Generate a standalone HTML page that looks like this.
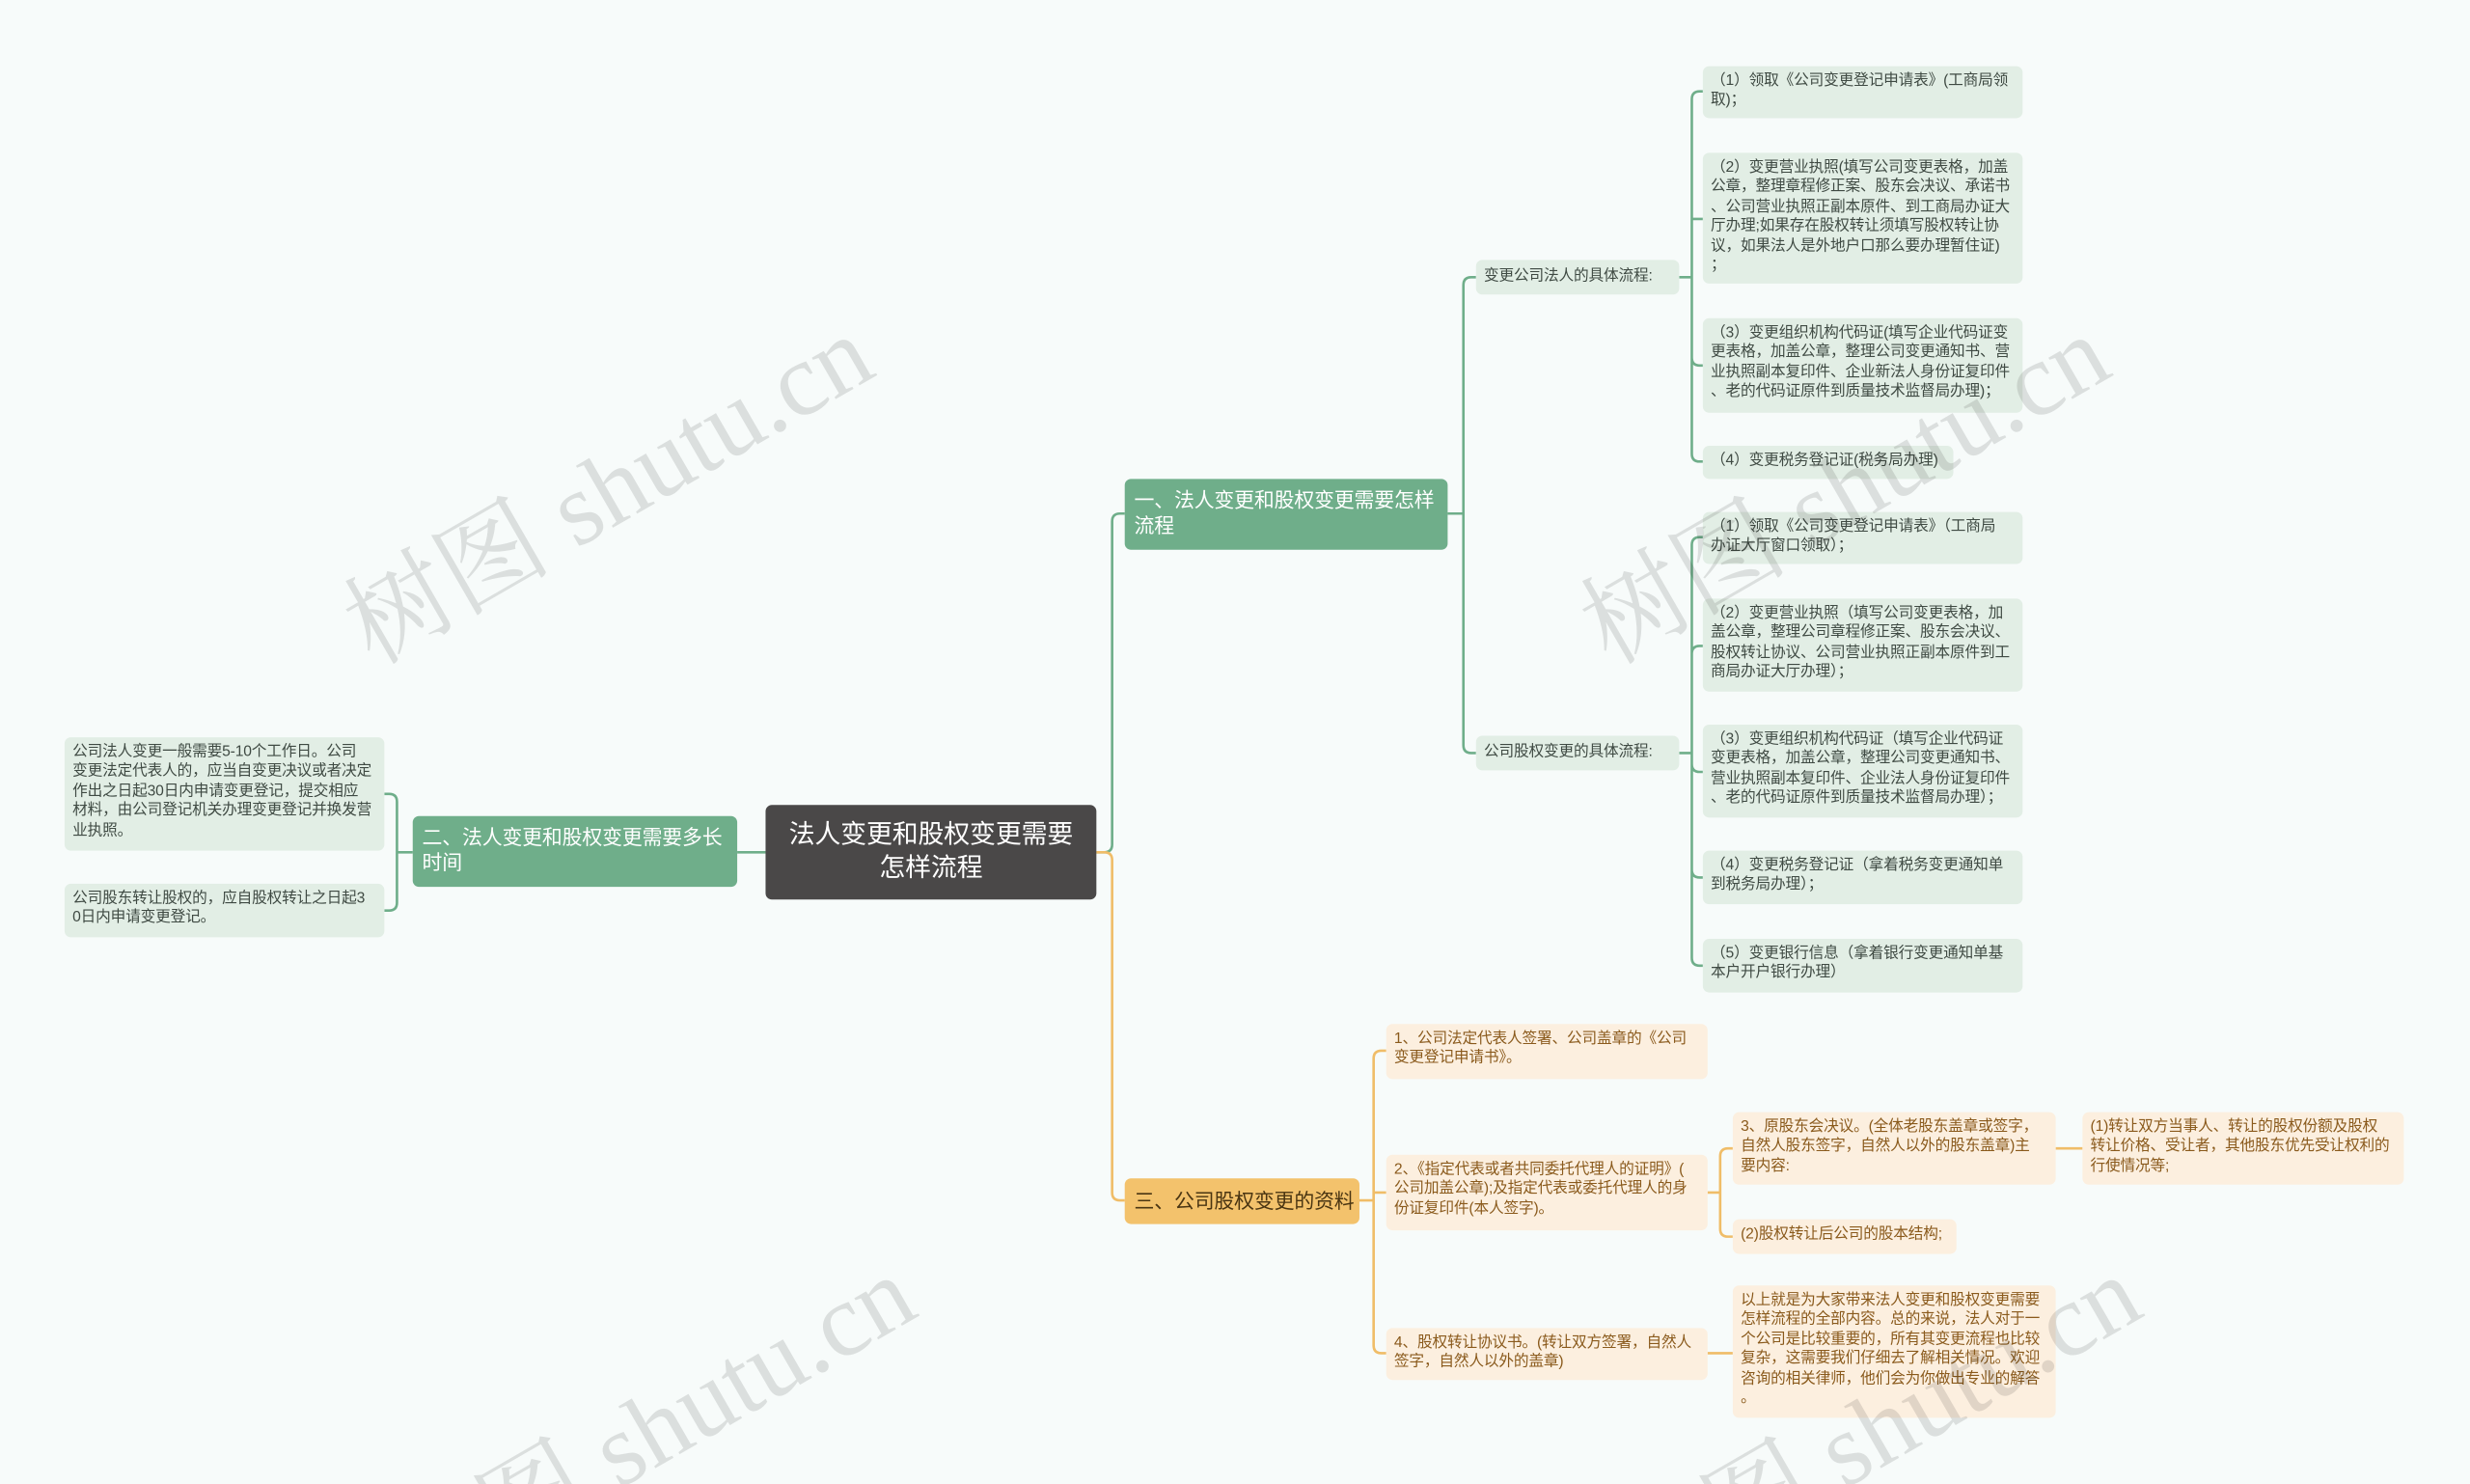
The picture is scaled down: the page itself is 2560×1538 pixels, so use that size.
<!DOCTYPE html>
<html><head><meta charset="utf-8"><style>
html,body{margin:0;padding:0;overflow:hidden;}
body{width:2560px;height:1538px;overflow:hidden;background:#f7fbfa;position:relative;}
#s{position:absolute;left:0;top:0;width:1568px;height:942px;overflow:hidden;transform:scale(1.63265);transform-origin:0 0;font-family:"Liberation Sans","Noto Sans CJK SC",sans-serif;}
.n{position:absolute;box-sizing:border-box;border-radius:4px;font-size:9.6px;line-height:12.4px;padding:4px 5px 3px;white-space:nowrap;letter-spacing:-0.1px;}
.g{background:#e2eee5;color:#3f4a43;}
.o{background:#fcefdf;color:#8a5a1c;}
.b{background:#6fae8a;color:#fff;font-size:12.8px;line-height:16px;padding:6px 6px;}
.ob{background:#f3c26c;color:#4a3512;font-size:12.8px;line-height:16px;padding:7px 6px;}
.r{background:#4a4848;color:#fff;font-size:16.5px;line-height:21px;text-align:center;padding:9px 6px;border-radius:4px;}
.w{position:absolute;font-family:"Liberation Serif","Noto Serif CJK SC",serif;font-size:66px;color:rgba(0,0,0,0.11);transform:rotate(-30deg);transform-origin:center;white-space:nowrap;}
svg{position:absolute;left:0;top:0;}
</style></head><body><div id="s">
<svg width="1568" height="942" fill="none" stroke-width="1.6">
<g stroke="#6fae8a">
<path d="M696 541 H701 Q706 541 706 536 V331 Q706 326 711 326 H714"/>
<path d="M486 541 H468"/>
<path d="M919 326 H929 M929 326 V181 Q929 176 934 176 H937 M929 326 V473 Q929 478 934 478 H937"/>
<path d="M1066 176 H1074 M1074 176 V63 Q1074 58 1079 58 H1081 M1074 139 H1081 M1074 176 V227 Q1074 232 1079 232 H1081 M1074 176 V288 Q1074 293 1079 293 H1081"/>
<path d="M1066 478 H1074 M1074 478 V346 Q1074 341 1079 341 H1081 M1074 478 V415 Q1074 410 1079 410 H1081 M1074 478 V485 Q1074 490 1079 490 H1081 M1074 478 V552 Q1074 557 1079 557 H1081 M1074 478 V608 Q1074 613 1079 613 H1081"/>
<path d="M262 541 H252 M252 541 V509 Q252 504 247 504 H244 M252 541 V573 Q252 578 247 578 H244"/>
</g>
<g stroke="#f0bd68">
<path d="M696 541 H701 Q706 541 706 546 V757 Q706 762 711 762 H714"/>
<path d="M863 762 H872 M872 762 V672 Q872 667 877 667 H880 M872 757 H880 M872 762 V854 Q872 859 877 859 H880"/>
<path d="M1084 757 H1092 M1092 757 V734 Q1092 729 1097 729 H1100 M1092 757 V780 Q1092 785 1097 785 H1100"/>
<path d="M1084 859 H1100"/>
<path d="M1305 729 H1322"/>
</g>
</svg>
<div class="n r" style="left:486px;top:511px;width:210px;height:60px;">法人变更和股权变更需要<br>怎样流程</div>
<div class="n b" style="left:714px;top:304px;width:205px;height:45px;">一、法人变更和股权变更需要怎样<br>流程</div>
<div class="n b" style="left:262px;top:518px;width:206px;height:45px;">二、法人变更和股权变更需要多长<br>时间</div>
<div class="n ob" style="left:714px;top:748px;width:149px;height:29px;">三、公司股权变更的资料</div>
<div class="n g" style="left:937px;top:165px;width:129px;height:22px;padding-top:5px;">变更公司法人的具体流程:</div>
<div class="n g" style="left:937px;top:467px;width:129px;height:22px;padding-top:5px;">公司股权变更的具体流程:</div>
<div class="n g" style="left:1081px;top:42px;width:203px;height:33px;">（1）领取《公司变更登记申请表》(工商局领<br>取)；</div>
<div class="n g" style="left:1081px;top:97px;width:203px;height:83px;">（2）变更营业执照(填写公司变更表格，加盖<br>公章，整理章程修正案、股东会决议、承诺书<br>、公司营业执照正副本原件、到工商局办证大<br>厅办理;如果存在股权转让须填写股权转让协<br>议，如果法人是外地户口那么要办理暂住证)<br>；</div>
<div class="n g" style="left:1081px;top:202px;width:203px;height:60px;">（3）变更组织机构代码证(填写企业代码证变<br>更表格，加盖公章，整理公司变更通知书、营<br>业执照副本复印件、企业新法人身份证复印件<br>、老的代码证原件到质量技术监督局办理)；</div>
<div class="n g" style="left:1081px;top:283px;width:159px;height:21px;">（4）变更税务登记证(税务局办理)</div>
<div class="n g" style="left:1081px;top:325px;width:203px;height:33px;">（1）领取《公司变更登记申请表》（工商局<br>办证大厅窗口领取）；</div>
<div class="n g" style="left:1081px;top:380px;width:203px;height:59px;">（2）变更营业执照（填写公司变更表格，加<br>盖公章，整理公司章程修正案、股东会决议、<br>股权转让协议、公司营业执照正副本原件到工<br>商局办证大厅办理）；</div>
<div class="n g" style="left:1081px;top:460px;width:203px;height:59px;">（3）变更组织机构代码证（填写企业代码证<br>变更表格，加盖公章，整理公司变更通知书、<br>营业执照副本复印件、企业法人身份证复印件<br>、老的代码证原件到质量技术监督局办理）；</div>
<div class="n g" style="left:1081px;top:540px;width:203px;height:34px;">（4）变更税务登记证（拿着税务变更通知单<br>到税务局办理）；</div>
<div class="n g" style="left:1081px;top:596px;width:203px;height:34px;">（5）变更银行信息（拿着银行变更通知单基<br>本户开户银行办理）</div>
<div class="n g" style="left:41px;top:468px;width:203px;height:72px;">公司法人变更一般需要5-10个工作日。公司<br>变更法定代表人的，应当自变更决议或者决定<br>作出之日起30日内申请变更登记，提交相应<br>材料，由公司登记机关办理变更登记并换发营<br>业执照。</div>
<div class="n g" style="left:41px;top:561px;width:203px;height:34px;">公司股东转让股权的，应自股权转让之日起3<br>0日内申请变更登记。</div>
<div class="n o" style="left:880px;top:650px;width:204px;height:35px;">1、公司法定代表人签署、公司盖章的《公司<br>变更登记申请书》。</div>
<div class="n o" style="left:880px;top:733px;width:204px;height:48px;">2、《指定代表或者共同委托代理人的证明》(<br>公司加盖公章);及指定代表或委托代理人的身<br>份证复印件(本人签字)。</div>
<div class="n o" style="left:880px;top:843px;width:204px;height:33px;">4、股权转让协议书。(转让双方签署，自然人<br>签字，自然人以外的盖章)</div>
<div class="n o" style="left:1100px;top:706px;width:205px;height:46px;">3、原股东会决议。(全体老股东盖章或签字，<br>自然人股东签字，自然人以外的股东盖章)主<br>要内容:</div>
<div class="n o" style="left:1100px;top:774px;width:142px;height:22px;">(2)股权转让后公司的股本结构;</div>
<div class="n o" style="left:1100px;top:816px;width:205px;height:84px;">以上就是为大家带来法人变更和股权变更需要<br>怎样流程的全部内容。总的来说，法人对于一<br>个公司是比较重要的，所有其变更流程也比较<br>复杂，这需要我们仔细去了解相关情况。欢迎<br>咨询的相关律师，他们会为你做出专业的解答<br>。</div>
<div class="n o" style="left:1322px;top:706px;width:204px;height:46px;">(1)转让双方当事人、转让的股权份额及股权<br>转让价格、受让者，其他股东优先受让权利的<br>行使情况等;</div>
<div class="w" style="left:198px;top:258px;">树图 shutu.cn</div>
<div class="w" style="left:983px;top:258px;">树图 shutu.cn</div>
<div class="w" style="left:225px;top:855px;">树图 shutu.cn</div>
<div class="w" style="left:1003px;top:855px;">树图 shutu.cn</div>
</div></body></html>
